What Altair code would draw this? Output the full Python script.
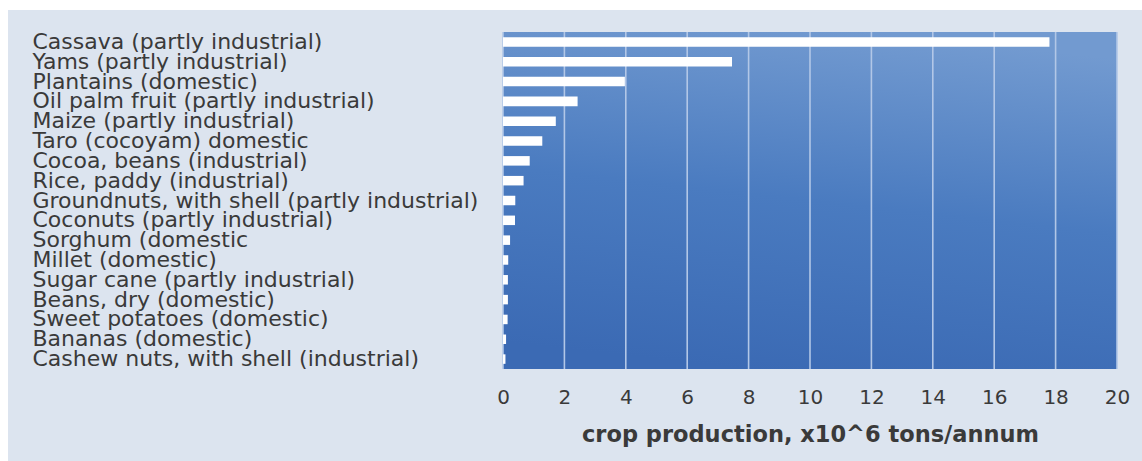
import altair as alt
import pandas as pd

# Crop names, top to bottom
crops = [
    "Cassava (partly industrial)",
    "Yams (partly industrial)",
    "Plantains (domestic)",
    "Oil palm fruit (partly industrial)",
    "Maize (partly industrial)",
    "Taro (cocoyam) domestic",
    "Cocoa, beans (industrial)",
    "Rice, paddy (industrial)",
    "Groundnuts, with shell (partly industrial)",
    "Coconuts (partly industrial)",
    "Sorghum (domestic",
    "Millet (domestic)",
    "Sugar cane (partly industrial)",
    "Beans, dry (domestic)",
    "Sweet potatoes (domestic)",
    "Bananas (domestic)",
    "Cashew nuts, with shell (industrial)",
]
# Production, million tons per year
production = [17.8, 7.46, 3.97, 2.43, 1.72, 1.28, 0.87, 0.67, 0.40, 0.39,
              0.23, 0.17, 0.16, 0.16, 0.15, 0.10, 0.08]
# Axis ticks
ticks = [0, 2, 4, 6, 8, 10, 12, 14, 16, 18, 20]

df = pd.DataFrame({"crop": crops, "production": production})
grid_df = pd.DataFrame({"tick": ticks})
one = pd.DataFrame({"k": [0]})

W, H = 614, 337
PAD_L, PAD_T, PAD_R, PAD_B = 503, 32, 25, 92
FONT = "DejaVu Sans"
TEXT = "#3a3a3a"

x_scale = alt.Scale(domain=[0, 20], nice=False, zero=True)

# light panel behind the whole figure
panel = alt.Chart(one).mark_rect(color="#dce4ef", clip=False).encode(
    x=alt.value(-(PAD_L - 8)),
    x2=alt.value(W + PAD_R),
    y=alt.value(-(PAD_T - 10)),
    y2=alt.value(H + PAD_B),
)

# blue gradient plot background
plot_bg = alt.Chart(one).mark_rect(
    color=alt.LinearGradient(
        gradient="linear",
        stops=[
            alt.GradientStop(color="#3b6ab4", offset=0),
            alt.GradientStop(color="#4a7bc0", offset=0.5),
            alt.GradientStop(color="#729ad0", offset=1),
        ],
        x1=0.4, y1=1, x2=0.6, y2=0,
    )
).encode(
    x=alt.value(0), x2=alt.value("width"),
    y=alt.value(0), y2=alt.value("height"),
)

grid = alt.Chart(grid_df).mark_rule(color="#b2c7e7", strokeWidth=1.6).encode(
    x=alt.X("tick:Q", scale=x_scale),
    y=alt.value(0),
    y2=alt.value("height"),
)

bars = alt.Chart(df).mark_bar(color="white", opacity=1).encode(
    x=alt.X(
        "production:Q",
        scale=x_scale,
        axis=alt.Axis(
            values=ticks,
            title="crop production, x10^6 tons/annum",
            grid=False, domain=False, ticks=False, tickSize=0, zindex=2,
            labelFlush=False, labelPadding=18, labelFontSize=20,
            labelColor=TEXT, labelFont=FONT,
            titleFontSize=22.5, titleFont=FONT, titleFontWeight="bold",
            titleColor=TEXT, titlePadding=16,
        ),
    ),
    y=alt.Y(
        "crop:N",
        sort=crops,
        scale=alt.Scale(paddingInner=0.52, paddingOuter=0.26),
        axis=alt.Axis(
            title=None, domain=False, ticks=False, tickSize=0, grid=False,
            zindex=2,
            labelAlign="left", labelBaseline="middle",
            labelPadding=PAD_L - 32, labelFontSize=22, labelColor=TEXT,
            labelFont=FONT, labelLimit=0,
        ),
    ),
)

chart = (
    alt.layer(panel, plot_bg, grid, bars)
    .properties(
        width=W, height=H,
        padding={"left": PAD_L, "top": PAD_T, "right": PAD_R, "bottom": PAD_B},
        autosize=alt.AutoSizeParams(type="none"),
        background="white",
    )
    .configure_view(stroke=None)
)

chart.save("out.html", embed_options={"renderer": "svg", "actions": False})
